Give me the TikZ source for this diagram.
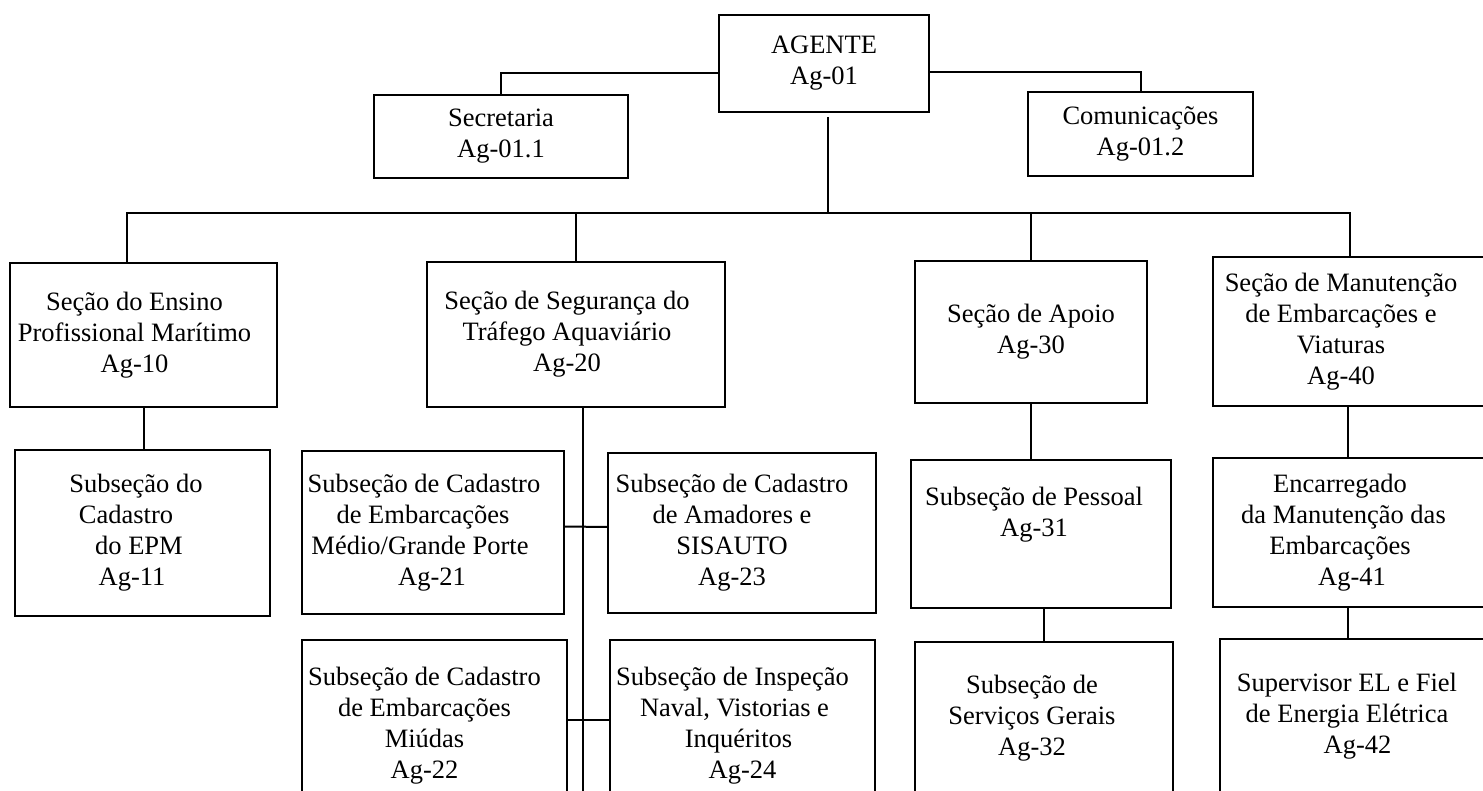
\documentclass[tikz,border=0pt]{standalone}
\usepackage{fontspec}
\setmainfont{Liberation Serif}
\newcommand{\pad}[1]{\hspace*{#1pt}\mbox{}}

\begin{document}
\begin{tikzpicture}[x=1pt, y=-1pt,
    orgbox/.style={draw, line width=2pt, align=center, inner sep=0pt,
      font=\fontsize{26.5}{31}\selectfont},
    link/.style={line width=2pt}]

      % Canvas
      \useasboundingbox (0,0) rectangle (1483,791);
      \clip (0,0) rectangle (1483,791);

      % Agent and staff
      \node[orgbox, minimum width=210pt, minimum height=97pt] (A0) at (824,63.5) {AGENTE\\Ag-01};
      \node[orgbox, minimum width=254pt, minimum height=83pt] (A1) at (501,136.5) {Secretaria\\Ag-01.1};
      \node[orgbox, minimum width=225pt, minimum height=84pt] (A2) at (1140.5,134) {Comunicações\\Ag-01.2};

      % Sections
      \node[orgbox, minimum width=267pt, minimum height=144pt] (S10) at (143.5,335) {Seção do Ensino\pad{18}\\Profissional Marítimo\pad{18}\\Ag-10\pad{18}};
      \node[orgbox, minimum width=298pt, minimum height=145pt] (S20) at (576,334.5) {Seção de Segurança do\pad{18}\\Tráfego Aquaviário\pad{18}\\Ag-20\pad{18}};
      \node[orgbox, minimum width=232pt, minimum height=142pt] (S30) at (1031,332) {Seção de Apoio\\Ag-30};
      \node[orgbox, minimum width=282pt, minimum height=149pt] (S40) at (1354,331.5) {Seção de Manutenção\pad{26}\\de Embarcações e\pad{26}\\Viaturas\pad{26}\\Ag-40\pad{26}};

      % Subsections
      \node[orgbox, minimum width=255pt, minimum height=166pt] (S11) at (142.5,533) {Subseção do\pad{13}\\Cadastro\pad{33}\\do EPM\pad{7}\\Ag-11\pad{21}};
      \node[orgbox, minimum width=262pt, minimum height=163pt] (S21) at (433,532.5) {Subseção de Cadastro\pad{18}\\de Embarcações\pad{20}\\Médio/Grande Porte\pad{26}\\Ag-21\pad{2}};
      \node[orgbox, minimum width=268pt, minimum height=160pt] (S23) at (742,533) {Subseção de Cadastro\pad{20}\\de Amadores e\pad{20}\\SISAUTO\pad{20}\\Ag-23\pad{20}};
      \node[orgbox, minimum width=265pt, minimum height=172pt] (S22) at (434.5,726) {Subseção de Cadastro\pad{20}\\de Embarcações\pad{20}\\Miúdas\pad{20}\\Ag-22\pad{20}};
      \node[orgbox, minimum width=265pt, minimum height=172pt] (S24) at (742.5,726) {Subseção de Inspeção\pad{20}\\Naval, Vistorias e\pad{16}\\Inquéritos\pad{8}\\Ag-24};
      \node[orgbox, minimum width=260pt, minimum height=148pt] (S31) at (1041,534) {Subseção de Pessoal\pad{14}\\Ag-31\pad{14}\\[14pt]\mbox{}};
      \node[orgbox, minimum width=258pt, minimum height=153pt] (S32) at (1044,718.5) {Subseção de\pad{24}\\Serviços Gerais\pad{24}\\Ag-32\pad{24}};
      \node[orgbox, minimum width=282pt, minimum height=149pt] (S41) at (1354,532.5) {Encarregado\pad{28}\\da Manutenção das\pad{21}\\Embarcações\pad{28}\\Ag-41\pad{4}};
      \node[orgbox, minimum width=275pt, minimum height=154pt] (S42) at (1357.5,716) {Supervisor EL e Fiel\pad{21}\\de Energia Elétrica\pad{21}\\Ag-42};

      % Staff connections
      \draw[link] ([yshift=-10pt]A0.west) -| (A1.north);
      \draw[link] ([yshift=-9pt]A0.east) -| (A2.north);

      % Main bus
      \coordinate (bus) at (828,213);
      \draw[link, shorten <=4pt] ([xshift=4pt]A0.south) -- (bus);
      \draw[link] ([xshift=-17pt]S10.north) |- (bus) -| ([xshift=-4pt]S40.north);
      \draw[link] (S20.north) -- (S20.north |- bus);
      \draw[link] (S30.north) -- (S30.north |- bus);

      % Ag-10 branch
      \draw[link] (S10.south) -- (S10.south |- S11.north);

      % Ag-20 branch
      \coordinate (end20) at (583,800);
      \draw[link] ([xshift=7pt]S20.south) -- (end20);
      \draw[link] ([yshift=6pt]S21.east) -- ([yshift=6pt]S23.west);
      \draw[link] ([yshift=6pt]S22.east) -- ([yshift=6pt]S24.west);

      % Ag-30 branch
      \draw[link] (S30.south) -- (S30.south |- S31.north);
      \draw[link] ([xshift=3pt]S31.south) -- ([xshift=3pt]S31.south |- S32.north);

      % Ag-40 branch
      \draw[link] ([xshift=-6pt]S40.south) -- ([xshift=-6pt]S40.south |- S41.north);
      \draw[link] ([xshift=-6pt]S41.south) -- ([xshift=-6pt]S41.south |- S42.north);

\end{tikzpicture}
\end{document}
